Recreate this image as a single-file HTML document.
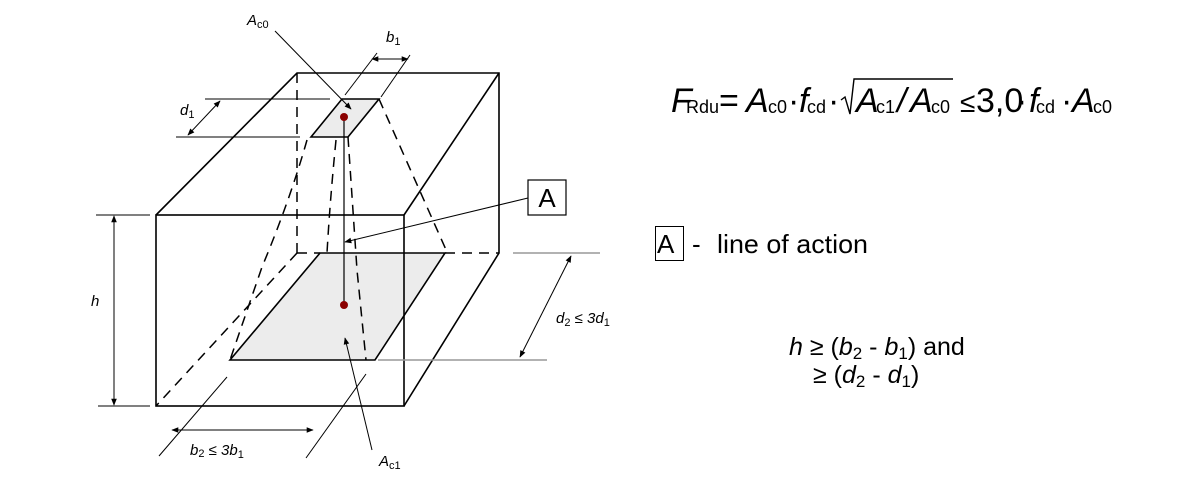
<!DOCTYPE html>
<html><head><meta charset="utf-8"><style>
html,body{margin:0;padding:0;background:#fff;}
svg{display:block;font-family:"Liberation Sans",Arial,sans-serif;}
</style></head><body>
<svg width="1191" height="480" viewBox="0 0 1191 480" xmlns="http://www.w3.org/2000/svg">
<defs>
<marker id="ar" viewBox="0 0 10 10" refX="9" refY="5" markerWidth="9" markerHeight="7" orient="auto-start-reverse" markerUnits="userSpaceOnUse">
<path d="M0,1 L10,5 L0,9 z" fill="#000"/></marker>
</defs>
<polygon points="342,99 379,99 348,137 311,137" fill="#ececec" stroke="#000" stroke-width="1.6"/>
<polygon points="320,253 445,253 375,360 230,360" fill="#ececec" stroke="#000" stroke-width="1.6"/>
<g stroke="#000" stroke-width="1.5" fill="none" stroke-dasharray="10,7">
<line x1="297" y1="73" x2="297" y2="253"/>
<line x1="297" y1="253" x2="320" y2="253"/>
<line x1="445" y1="253" x2="499" y2="253"/>
<line x1="297" y1="253" x2="156" y2="406"/>
<path d="M307,140 Q290,200 262,267 L230,360"/>
<path d="M336,140 Q330,200 327,253"/>
<path d="M348,137 L357,270 L366,360"/>
<line x1="379" y1="99" x2="447" y2="252"/>
</g>
<g stroke="#000" stroke-width="1.6" fill="none">
<polyline points="156,215 297,73 499,73 499,253 404,406"/>
<rect x="156" y="215" width="248" height="191"/>
<line x1="404" y1="215" x2="499" y2="73"/>
</g>
<line x1="344" y1="117" x2="344" y2="305" stroke="#000" stroke-width="1.2"/>
<circle cx="344" cy="117" r="4" fill="#8b0000"/>
<circle cx="344" cy="305" r="4" fill="#8b0000"/>
<g stroke="#000" stroke-width="1" fill="none">
<line x1="205" y1="99" x2="330" y2="99"/>
<line x1="176" y1="137" x2="300" y2="137"/>
<line x1="220" y1="101" x2="188" y2="135" marker-start="url(#ar)" marker-end="url(#ar)"/>
<line x1="345" y1="95" x2="377" y2="53"/>
<line x1="381" y1="97" x2="410" y2="55"/>
<line x1="372" y1="59" x2="408" y2="59" marker-start="url(#ar)" marker-end="url(#ar)"/>
<line x1="275" y1="31" x2="351" y2="109" marker-end="url(#ar)"/>
<line x1="528" y1="198" x2="345" y2="242" marker-end="url(#ar)"/>
<line x1="96" y1="215" x2="150" y2="215"/>
<line x1="98" y1="406" x2="150" y2="406"/>
<line x1="114" y1="216" x2="114" y2="405" marker-start="url(#ar)" marker-end="url(#ar)"/>
<line x1="571" y1="256" x2="520" y2="357" marker-start="url(#ar)" marker-end="url(#ar)"/>
<line x1="227" y1="377" x2="159" y2="456"/>
<line x1="366" y1="374" x2="306" y2="458"/>
<line x1="172" y1="430" x2="313" y2="430" marker-start="url(#ar)" marker-end="url(#ar)"/>
<line x1="372" y1="450" x2="345" y2="338" marker-end="url(#ar)"/>
</g>
<g stroke="#999" stroke-width="1.5">
<line x1="513" y1="253" x2="600" y2="253"/>
<line x1="378" y1="360" x2="547" y2="360"/>
</g>
<rect x="528" y="180" width="38" height="35" fill="#fff" stroke="#000" stroke-width="1.2"/>
<text x="547" y="207" font-size="26" text-anchor="middle">A</text>
<g font-style="italic" font-size="15">
<text x="247" y="25">A<tspan font-size="11" font-style="normal" dy="3">c0</tspan></text>
<text x="386" y="42">b<tspan font-size="11" font-style="normal" dy="3">1</tspan></text>
<text x="180" y="115">d<tspan font-size="11" font-style="normal" dy="3">1</tspan></text>
<text x="91" y="306">h</text>
<text x="556" y="323">d<tspan font-size="11" font-style="normal" dy="3">2</tspan><tspan font-style="normal" dy="-3"> ≤ </tspan>3d<tspan font-size="11" font-style="normal" dy="3">1</tspan></text>
<text x="190" y="455">b<tspan font-size="11" font-style="normal" dy="2">2</tspan><tspan font-style="normal" dy="-2"> ≤ </tspan>3b<tspan font-size="11" font-style="normal" dy="3">1</tspan></text>
<text x="379" y="466">A<tspan font-size="11" font-style="normal" dy="3">c1</tspan></text>
</g>
<g font-size="34">
<text x="671" y="112" font-style="italic">F</text>
<text x="686" y="113" font-size="18">Rdu</text>
<text x="719" y="112">=</text>
<text x="746" y="112" font-style="italic">A</text>
<text x="768" y="113" font-size="18">c0</text>
<text x="788" y="112">·</text>
<text x="799" y="112" font-style="italic">f</text>
<text x="807" y="113" font-size="18">cd</text>
<text x="828" y="112">·</text>
<polyline points="841,100 845,97 850,114 854,79 953,79" fill="none" stroke="#000" stroke-width="1.4"/>
<text x="856" y="112" font-style="italic">A</text>
<text x="876" y="113" font-size="18">c1</text>
<text x="897" y="112" font-style="italic">/</text>
<text x="910" y="112" font-style="italic">A</text>
<text x="931" y="113" font-size="18">c0</text>
<text x="960" y="112" font-size="28">≤</text>
<text x="976" y="112">3,0</text>
<text x="1016" y="112">·</text>
<text x="1029" y="112" font-style="italic">f</text>
<text x="1036" y="113" font-size="18">cd</text>
<text x="1061" y="112">·</text>
<text x="1072" y="112" font-style="italic">A</text>
<text x="1093" y="113" font-size="18">c0</text>
</g>
<rect x="655.5" y="226.5" width="28" height="34" fill="none" stroke="#000" stroke-width="1"/>
<text x="657" y="253" font-size="26">A</text>
<text x="692" y="253" font-size="26">-</text>
<text x="717" y="253" font-size="26" textLength="151" lengthAdjust="spacingAndGlyphs">line of action</text>
<g font-size="25">
<text x="789" y="355"><tspan font-style="italic">h</tspan> ≥ (<tspan font-style="italic">b</tspan><tspan font-size="17" dy="4">2</tspan><tspan dy="-4"> - </tspan><tspan font-style="italic">b</tspan><tspan font-size="17" dy="4">1</tspan><tspan dy="-4">) and</tspan></text>
<text x="813" y="383">≥ (<tspan font-style="italic">d</tspan><tspan font-size="17" dy="4">2</tspan><tspan dy="-4"> - </tspan><tspan font-style="italic">d</tspan><tspan font-size="17" dy="4">1</tspan><tspan dy="-4">)</tspan></text>
</g>
</svg>
</body></html>
